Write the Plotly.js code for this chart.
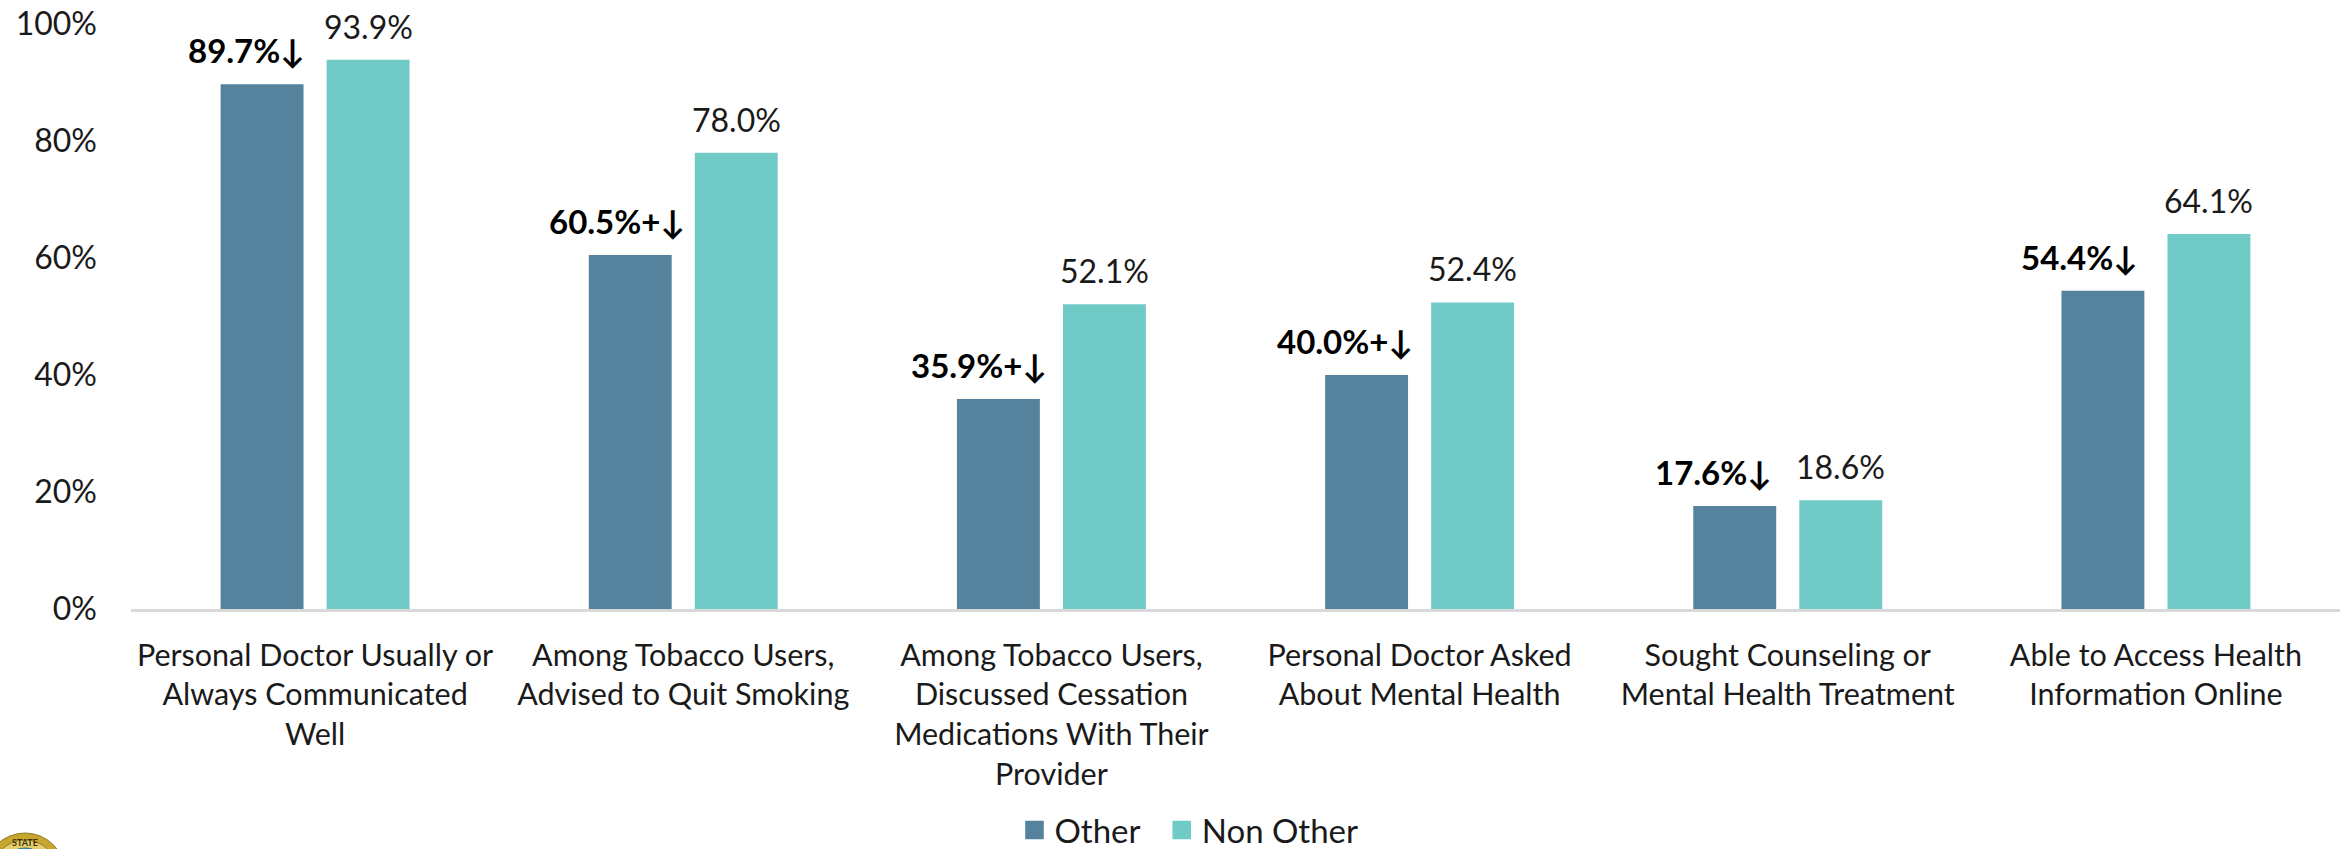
<!DOCTYPE html>
<html><head><meta charset="utf-8">
<script src="https://cdn.plot.ly/plotly-3.0.1.min.js"></script>
<style>html,body{margin:0;padding:0;background:#fff}</style></head>
<body><div id="chart" style="width:2341px;height:849px"></div>
<script>
const categories = [
 "Personal Doctor Usually or<br>Always Communicated<br>Well",
 "Among Tobacco Users,<br>Advised to Quit Smoking",
 "Among Tobacco Users,<br>Discussed Cessation<br>Medications With Their<br>Provider",
 "Personal Doctor Asked<br>About Mental Health",
 "Sought Counseling or<br>Mental Health Treatment",
 "Able to Access Health<br>Information Online"];
const otherValues = [89.7,60.5,35.9,40.0,17.6,54.4];
const nonOtherValues = [93.9,78.0,52.1,52.4,18.6,64.1];
const otherLabels = ["89.7%↓","60.5%+↓","35.9%+↓","40.0%+↓","17.6%↓","54.4%↓"];
const nonOtherLabels = ["93.9%","78.0%","52.1%","52.4%","18.6%","64.1%"];
const tickVals = [0,20,40,60,80,100];
const tickText = ["0%","20%","40%","60%","80%","100%"];
const FONT = "Lato, Carlito, sans-serif";
const INK = "#1a1a1a";
const M = {l:131,r:1,t:24,b:240,autoexpand:false};
const W = 2341, H = 849;
const px = v => (v-M.l)/(W-M.l-M.r);
const py = v => (H-M.b-v)/(H-M.t-M.b);
const traces = [
 {type:"bar",name:"Other\u00a0\u00a0",x:categories,y:otherValues,marker:{color:"#55829C"},hoverinfo:"x+y"},
 {type:"bar",name:"Non Other",x:categories,y:nonOtherValues,marker:{color:"#70CAC6"},hoverinfo:"x+y"}
];
const otherShift = [-69,-66,-72,-75,-74,-76];
const nonOtherShift = [53,53,53,53,53,53];
const labelAnn = (vals,labels,shifts,bold)=>vals.map((v,i)=>({
  x:categories[i],y:v,xref:"x",yref:"y",xanchor:"center",yanchor:"bottom",
  text:bold?"<b>"+labels[i]+"</b>":labels[i],showarrow:false,xshift:shifts[i],yshift:12,
  font:{family:FONT,size:bold?33:32,color:bold?"#000":INK}}));
const seal = (r,fill,line)=>({type:"circle",xref:"paper",yref:"paper",layer:"above",
  x0:px(25-r),x1:px(25+r),y0:py(873+r),y1:py(873-r),fillcolor:fill,line:{color:line,width:1}});
const layout = {
 width:W,height:H,paper_bgcolor:"#fff",plot_bgcolor:"#fff",
 margin:M,
 font:{family:FONT,size:30,color:INK},
 barmode:"group",bargap:0.424,bargroupgap:0.218,
 xaxis:{type:"category",tickfont:{size:30.5,family:FONT,color:INK},showline:true,linecolor:"#d9d9d9",linewidth:3,ticks:"",showgrid:false,ticklabelstandoff:17},
 yaxis:{range:[0,100],tickvals:tickVals,ticktext:tickText,tickfont:{size:32,family:FONT,color:INK},showgrid:false,zeroline:false,showline:false,ticks:"",ticklabelstandoff:33},
 legend:{orientation:"h",x:px(1189),xanchor:"center",xref:"paper",y:py(830),yanchor:"middle",font:{size:33,family:FONT,color:INK},traceorder:"normal"},
 showlegend:true,
 shapes:[seal(40,"#C8A62E","#8f7a2a"),seal(33,"#E6CE6A","#8f7a2a"),seal(25,"#4C9CCB","#2f6f9c")],
 annotations:[...labelAnn(otherValues,otherLabels,otherShift,true),...labelAnn(nonOtherValues,nonOtherLabels,nonOtherShift,false),
  {xref:"paper",yref:"paper",x:px(25),y:py(842),xanchor:"center",yanchor:"middle",borderpad:0,text:"<b>STATE</b>",showarrow:false,font:{family:FONT,size:9,color:"#3a3010"}}]
};
Plotly.newPlot("chart",traces,layout,{displayModeBar:false,staticPlot:true}).then(gd=>{
  gd.querySelectorAll(".legend .legendpoints path").forEach(p=>{
    p.setAttribute("transform",(p.getAttribute("transform")||"")+" scale(1.55)");
  });
});
</script></body></html>
